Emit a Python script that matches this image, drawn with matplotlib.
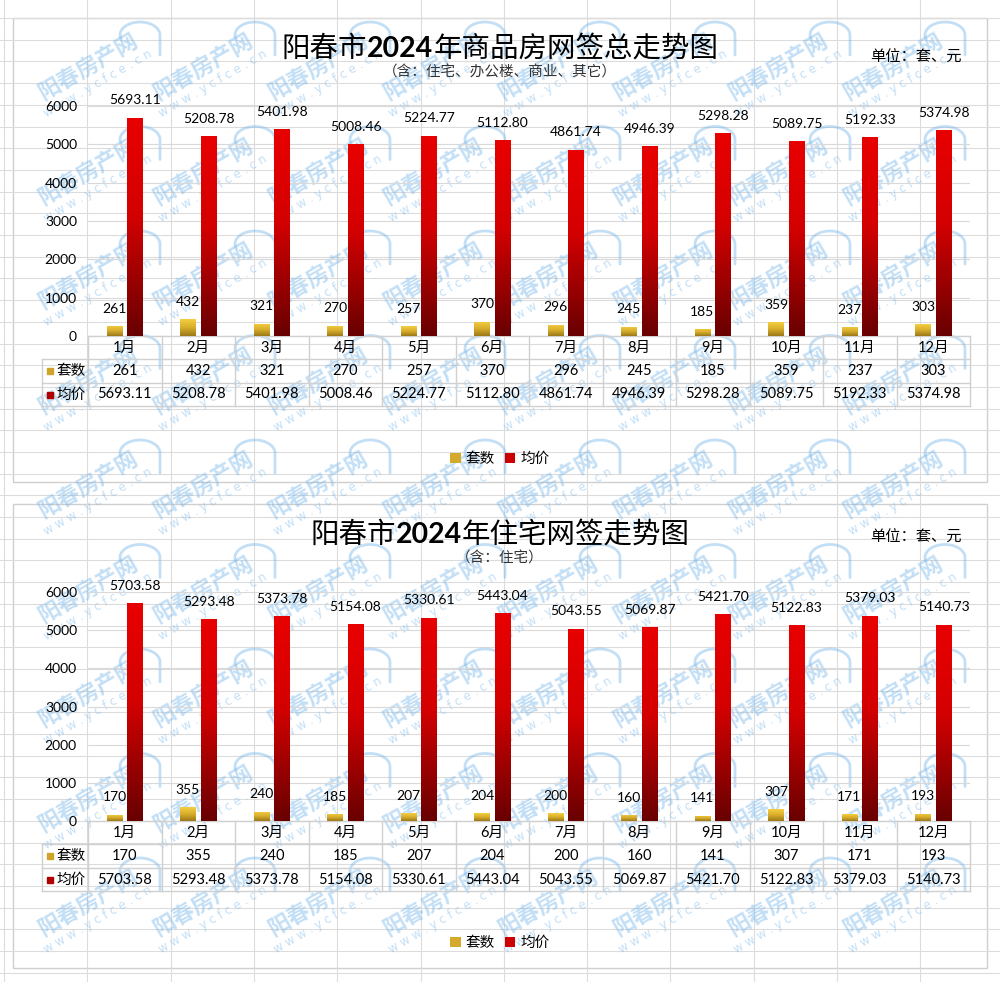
import numpy as np
import matplotlib
matplotlib.use('Agg')
import matplotlib.pyplot as plt
from matplotlib.patches import Rectangle, Patch
from matplotlib.colors import LinearSegmentedColormap

plt.rcParams['font.family'] = ['Lato', 'Noto Sans CJK SC', 'DejaVu Sans']
CJK = ['Noto Sans CJK SC', 'DejaVu Sans']

# 数据
months = ['1月', '2月', '3月', '4月', '5月', '6月', '7月', '8月', '9月', '10月', '11月', '12月']
all_units = [261, 432, 321, 270, 257, 370, 296, 245, 185, 359, 237, 303]
all_price = [5693.11, 5208.78, 5401.98, 5008.46, 5224.77, 5112.80,
             4861.74, 4946.39, 5298.28, 5089.75, 5192.33, 5374.98]
res_units = [170, 355, 240, 185, 207, 204, 200, 160, 141, 307, 171, 193]
res_price = [5703.58, 5293.48, 5373.78, 5154.08, 5330.61, 5443.04,
             5043.55, 5069.87, 5421.70, 5122.83, 5379.03, 5140.73]
series_names = ['套数', '均价']
yticks = [0, 1000, 2000, 3000, 4000, 5000, 6000]

W, H = 1000, 982
fig = plt.figure(figsize=(W / 100, H / 100), dpi=100)

def fx(px):
    return px / W

def fy(py):
    return 1 - py / H

gold_cmap = LinearSegmentedColormap.from_list('gold', ['#9a7818', '#d8ad2c', '#f5cf40'])
red_cmap = LinearSegmentedColormap.from_list('red', [(0, '#680000'), (0.55, '#d40000'), (1, '#e80000')])
grid_c = '#d9d9d9'
line_c = '#d0d0d0'

# 背景：表格网格、图表框、水印
bg = fig.add_axes([0, 0, 1, 1], zorder=0)
bg.set_xlim(0, W)
bg.set_ylim(H, 0)
bg.axis('off')
for xv in np.arange(4, W, 83.3):
    bg.axvline(xv, color='#dcdcdc', lw=0.8)
for yv in np.arange(-3.7, H, 21.7):
    bg.axhline(yv, color='#dcdcdc', lw=0.8)
for top, bottom in [(18, 482), (504, 968)]:
    bg.add_patch(Rectangle((13, top), 974, bottom - top, facecolor='white',
                           edgecolor='#cfcfcf', lw=1))

wm_c = '#7ab8ea'
t = np.linspace(np.radians(200), np.radians(-5), 40)
for j in range(9):
    cy = 67 + 104.5 * j
    for k in range(8):
        cx = 88 + 115 * k
        bg.text(cx, cy, '阳春房产网', rotation=30, rotation_mode='anchor', ha='center',
                va='center', fontsize=16, weight='bold', color=wm_c, alpha=0.45, family=CJK)
        bg.text(cx + 10, cy + 17, 'w w w . y c f c e . c n', rotation=30, rotation_mode='anchor',
                ha='center', va='center', fontsize=8.5, color=wm_c, alpha=0.45, family=['DejaVu Sans'])
        rx, ry = cx + 52, cy - 32
        xs = list(rx + 20 * np.cos(t)) + [rx + 20, rx + 20]
        ys = list(ry - 13 * np.sin(t)) + [ry + 2, ry + 20]
        bg.plot(xs, ys, color=wm_c, alpha=0.45, lw=2, solid_capstyle='round')


def grad_bars(ax, bars, cmap):
    g = np.linspace(0, 1, 256).reshape(-1, 1)
    for r in bars:
        x0, y0 = r.get_x(), r.get_y()
        im = ax.imshow(g, cmap=cmap, origin='lower', aspect='auto', zorder=2.1,
                       extent=[x0, x0 + r.get_width(), y0, y0 + r.get_height()])
        im.set_clip_path(r)


def mixed_title(cx, base_y, parts, size):
    texts = []
    for s, weight, fam in parts:
        texts.append(fig.text(0, fy(base_y), s, fontsize=size, weight=weight,
                              family=fam, va='baseline', ha='left'))
    r = fig.canvas.get_renderer()
    widths = [tt.get_window_extent(r).width for tt in texts]
    x = cx - sum(widths) / 2
    for tt, w in zip(texts, widths):
        tt.set_x(fx(x))
        x += w


def panel(ax_top, ax_bot, units, price, title_parts, subtitle, title_y, sub_y, unit_y, legend_y):
    ax = fig.add_axes([fx(88), fy(ax_bot), fx(970) - fx(88), (ax_bot - ax_top) / H], zorder=1)
    ax.patch.set_alpha(0)
    x = np.arange(len(months))
    b1 = ax.bar(x - 0.14, units, width=0.21, color='#d8ad2c', zorder=2)
    b2 = ax.bar(x + 0.14, price, width=0.21, color='#c00000', zorder=2)
    grad_bars(ax, b1, gold_cmap)
    grad_bars(ax, b2, red_cmap)
    ax.set_xlim(-0.5, 11.5)
    ax.set_ylim(0, 6000)
    ax.set_yticks(yticks)
    ax.set_xticks([])
    ax.yaxis.grid(True, color=grid_c, lw=0.8)
    ax.set_axisbelow(True)
    ax.tick_params(axis='y', length=0, pad=8, labelsize=10)
    for s in ax.spines.values():
        s.set_visible(False)

    for xi, v in zip(x, units):
        ax.annotate(f'{v}', (xi - 0.14, v), xytext=(0, 12.5), textcoords='offset points',
                    ha='center', va='center', fontsize=10)
    for xi, v in zip(x, price):
        ax.annotate(f'{v:.2f}', (xi + 0.14, v), xytext=(0, 12.5), textcoords='offset points',
                    ha='center', va='center', fontsize=10)

    # 数据表
    tr = ax.get_xaxis_transform()
    rh = 23.4 / (ax_bot - ax_top)
    kw = 46 / 73.5
    ax.plot([-0.5, 11.5], [0, 0], transform=tr, color=line_c, lw=1, clip_on=False)
    for i in range(1, 4):
        ax.plot([-0.5 - kw, 11.5], [-i * rh, -i * rh], transform=tr, color=line_c, lw=1, clip_on=False)
    for xv in np.arange(-0.5, 12, 1):
        ax.plot([xv, xv], [0, -3 * rh], transform=tr, color=line_c, lw=1, clip_on=False)
    ax.plot([-0.5 - kw] * 2, [-rh, -3 * rh], transform=tr, color=line_c, lw=1, clip_on=False)
    for xi in x:
        ax.text(xi, -0.5 * rh, months[xi], transform=tr, ha='center', va='center', fontsize=10.5)
        ax.text(xi, -1.5 * rh, f'{units[xi]}', transform=tr, ha='center', va='center', fontsize=10.5)
        ax.text(xi, -2.5 * rh, f'{price[xi]:.2f}', transform=tr, ha='center', va='center', fontsize=10.5)
    for row, (name, col) in enumerate(zip(series_names, ['#d0a42a', '#b00000'])):
        yy = -(1.5 + row) * rh
        ax.plot([-0.5 - kw + 0.11], [yy], 's', color=col, ms=5, transform=tr, clip_on=False)
        ax.text(-0.5 - kw + 0.2, yy, name, transform=tr, ha='left', va='center',
                fontsize=10.5, family=CJK)

    mixed_title(500, title_y, title_parts, 20.5)
    fig.text(fx(500), fy(sub_y), subtitle, ha='center', va='center', fontsize=10.5,
             family=CJK, color='#333333')
    fig.text(fx(962), fy(unit_y), '单位：套、元', ha='right', va='center', fontsize=11, family=CJK)
    fig.legend(handles=[Patch(facecolor='#d4aa2c'), Patch(facecolor='#cc0000')],
               labels=series_names, loc='center', bbox_to_anchor=(fx(500), fy(legend_y)),
               ncol=2, frameon=False, handlelength=0.7, handleheight=0.7,
               handletextpad=0.35, columnspacing=0.7, prop={'family': CJK, 'size': 10.5})


panel(106, 336, all_units, all_price,
      [('阳春市', 'normal', CJK), ('2024', 'bold', ['Lato']), ('年商品房网签总走势图', 'normal', CJK)],
      '（含：住宅、办公楼、商业、其它）', 57, 73, 57, 459)
panel(592, 821, res_units, res_price,
      [('阳春市', 'normal', CJK), ('2024', 'bold', ['Lato']), ('年住宅网签走势图', 'normal', CJK)],
      '（含：住宅）', 543, 559, 537, 943)

fig.savefig('out.png', dpi=100)
